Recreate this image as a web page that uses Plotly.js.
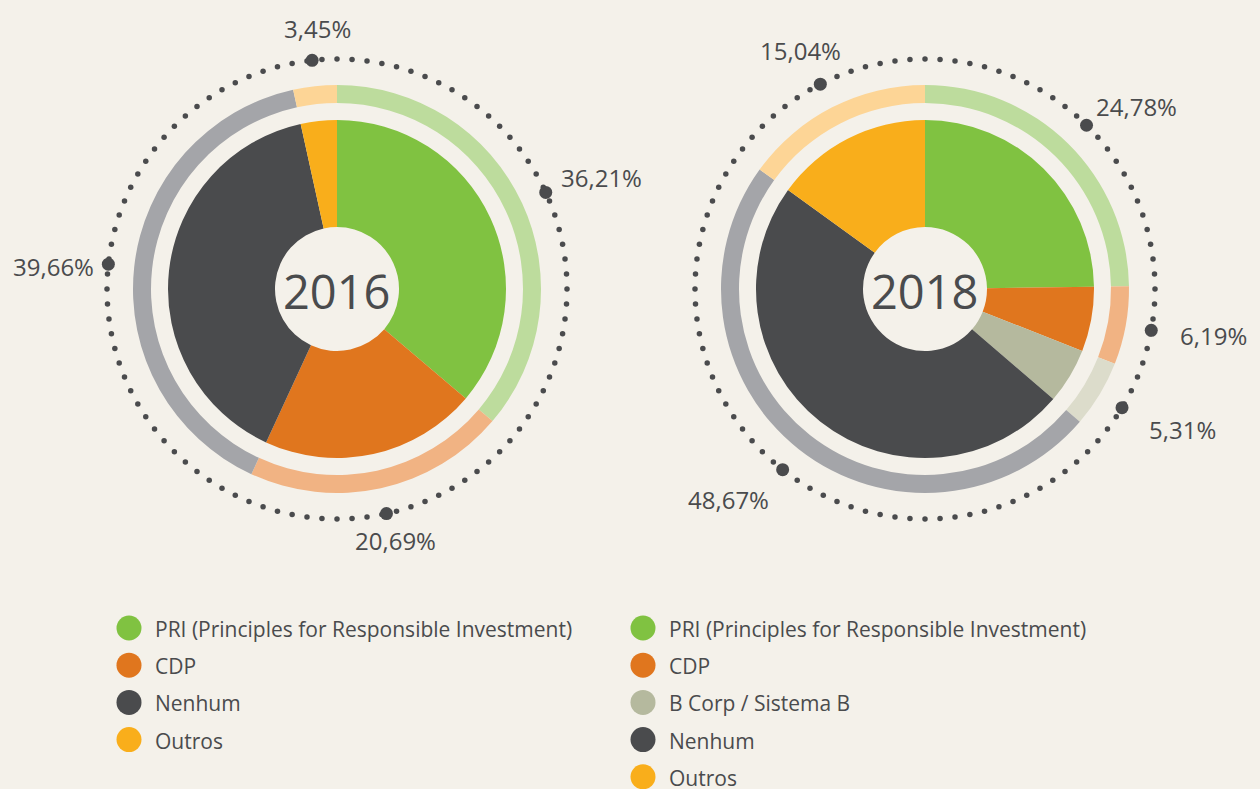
<!DOCTYPE html>
<html>
<head>
<meta charset="utf-8">
<script src="https://cdn.plot.ly/plotly-3.0.1.min.js"></script>
<style>
html,body{margin:0;padding:0;background:#f4f1ea;}
#chart{width:1260px;height:789px;}
</style>
</head>
<body>
<div id="chart"></div>
<script>
// ---- data ----
const years = ['2016', '2018'];
const cats2016 = ['PRI (Principles for Responsible Investment)', 'CDP', 'Nenhum', 'Outros'];
const vals2016 = [36.21, 20.69, 39.66, 3.45];
const text2016 = ['36,21%', '20,69%', '39,66%', '3,45%'];
const cats2018 = ['PRI (Principles for Responsible Investment)', 'CDP', 'B Corp / Sistema B', 'Nenhum', 'Outros'];
const vals2018 = [24.78, 6.19, 5.31, 48.67, 15.04];
const text2018 = ['24,78%', '6,19%', '5,31%', '48,67%', '15,04%'];

// ---- styles ----
const W = 1260, H = 789;
const darkColor = {
  'PRI (Principles for Responsible Investment)': '#80c241',
  'CDP': '#e0761e',
  'B Corp / Sistema B': '#b5b99e',
  'Nenhum': '#4a4b4d',
  'Outros': '#f9ae1b'
};
const lightColor = {
  'PRI (Principles for Responsible Investment)': '#bddc9d',
  'CDP': '#f1b383',
  'B Corp / Sistema B': '#dcdccb',
  'Nenhum': '#a4a5a9',
  'Outros': '#fdd596'
};
const textColor = '#4a4b4d';
const FONT = 'Open Sans, Noto Sans, sans-serif';

// layout geometry (pixels)
const charts = [
  {cx: 337, cy: 289, cats: cats2016, vals: vals2016, txt: text2016, year: years[0],
   // label offsets (dx, dy) from the marker dot, per category
   off: [[56, -15], [9, 27], [-55, 2], [5, -32]],
   legX: 129},
  {cx: 925, cy: 289, cats: cats2018, vals: vals2018, txt: text2018, year: years[1],
   off: [[50, -19], [62, 5], [60, 22], [-54, 30], [-20, -34]],
   legX: 643}
];
const rPie = 169, rHole = 62, rRingOut = 204, rRingIn = 186, rDots = 230;
const legTop = 628, legStep = 37.2;

function domainFor(cx, cy, r) {
  return {
    x: [(cx - r) / W, (cx + r) / W],
    y: [1 - (cy + r) / H, 1 - (cy - r) / H]
  };
}

const traces = [];
const annotations = [];

charts.forEach(function (c) {
  // outer light ring
  traces.push({
    type: 'pie', labels: c.cats, values: c.vals, sort: false, direction: 'clockwise', rotation: 0,
    hole: rRingIn / rRingOut, domain: domainFor(c.cx, c.cy, rRingOut),
    marker: {colors: c.cats.map(k => lightColor[k]), line: {width: 0}},
    textinfo: 'none', hoverinfo: 'label+percent', showlegend: false
  });
  // inner main pie
  traces.push({
    type: 'pie', labels: c.cats, values: c.vals, sort: false, direction: 'clockwise', rotation: 0,
    hole: rHole / rPie, domain: domainFor(c.cx, c.cy, rPie),
    marker: {colors: c.cats.map(k => darkColor[k]), line: {width: 0}},
    textinfo: 'none', hoverinfo: 'label+percent', showlegend: false
  });

  // dotted decorative circle
  const dx = [], dy = [];
  const N = 96;
  for (let i = 0; i < N; i++) {
    const a = i / N * 2 * Math.PI;
    dx.push(c.cx + rDots * Math.sin(a));
    dy.push(c.cy - rDots * Math.cos(a));
  }
  traces.push({
    type: 'scatter', mode: 'markers', x: dx, y: dy, hoverinfo: 'skip', showlegend: false,
    marker: {size: 5.5, color: textColor}
  });

  // label dots at slice mid-angles
  const total = c.vals.reduce((s, v) => s + v, 0);
  let cum = 0;
  const lx = [], ly = [];
  c.vals.forEach(function (v, i) {
    const a = (cum + v / 2) / total * 2 * Math.PI;
    cum += v;
    const px = c.cx + rDots * Math.sin(a);
    const py = c.cy - rDots * Math.cos(a);
    lx.push(px); ly.push(py);
    annotations.push({
      x: px, y: py, xref: 'x', yref: 'y', text: c.txt[i], showarrow: false,
      xanchor: 'center', yanchor: 'middle', xshift: c.off[i][0], yshift: -c.off[i][1],
      font: {family: FONT, size: 24, color: textColor}
    });
  });
  traces.push({
    type: 'scatter', mode: 'markers', x: lx, y: ly, text: c.txt, hoverinfo: 'text', showlegend: false,
    marker: {size: 13, color: textColor}
  });

  // year in the hole
  annotations.push({
    x: c.cx, y: c.cy + 2, xref: 'x', yref: 'y', text: c.year, showarrow: false,
    xanchor: 'center', yanchor: 'middle',
    font: {family: FONT, size: 47, color: textColor}
  });

  // custom legend
  const gx = [], gy = [];
  c.cats.forEach(function (k, i) {
    gx.push(c.legX); gy.push(legTop + i * legStep);
    annotations.push({
      x: c.legX + 24, y: legTop + i * legStep + 1, xref: 'x', yref: 'y', text: k, showarrow: false,
      xanchor: 'left', yanchor: 'middle',
      font: {family: FONT, size: 21, color: textColor}
    });
  });
  traces.push({
    type: 'scatter', mode: 'markers', x: gx, y: gy, text: c.cats, hoverinfo: 'text', showlegend: false,
    marker: {size: 25, color: c.cats.map(k => darkColor[k])}
  });
});

const layout = {
  width: W, height: H,
  margin: {l: 0, r: 0, t: 0, b: 0, pad: 0},
  paper_bgcolor: '#f4f1ea', plot_bgcolor: 'rgba(0,0,0,0)',
  xaxis: {range: [0, W], visible: false, fixedrange: true},
  yaxis: {range: [H, 0], visible: false, fixedrange: true},
  showlegend: false,
  annotations: annotations,
  font: {family: FONT, color: textColor}
};

Plotly.newPlot('chart', traces, layout, {displayModeBar: false, staticPlot: false});
</script>
</body>
</html>
